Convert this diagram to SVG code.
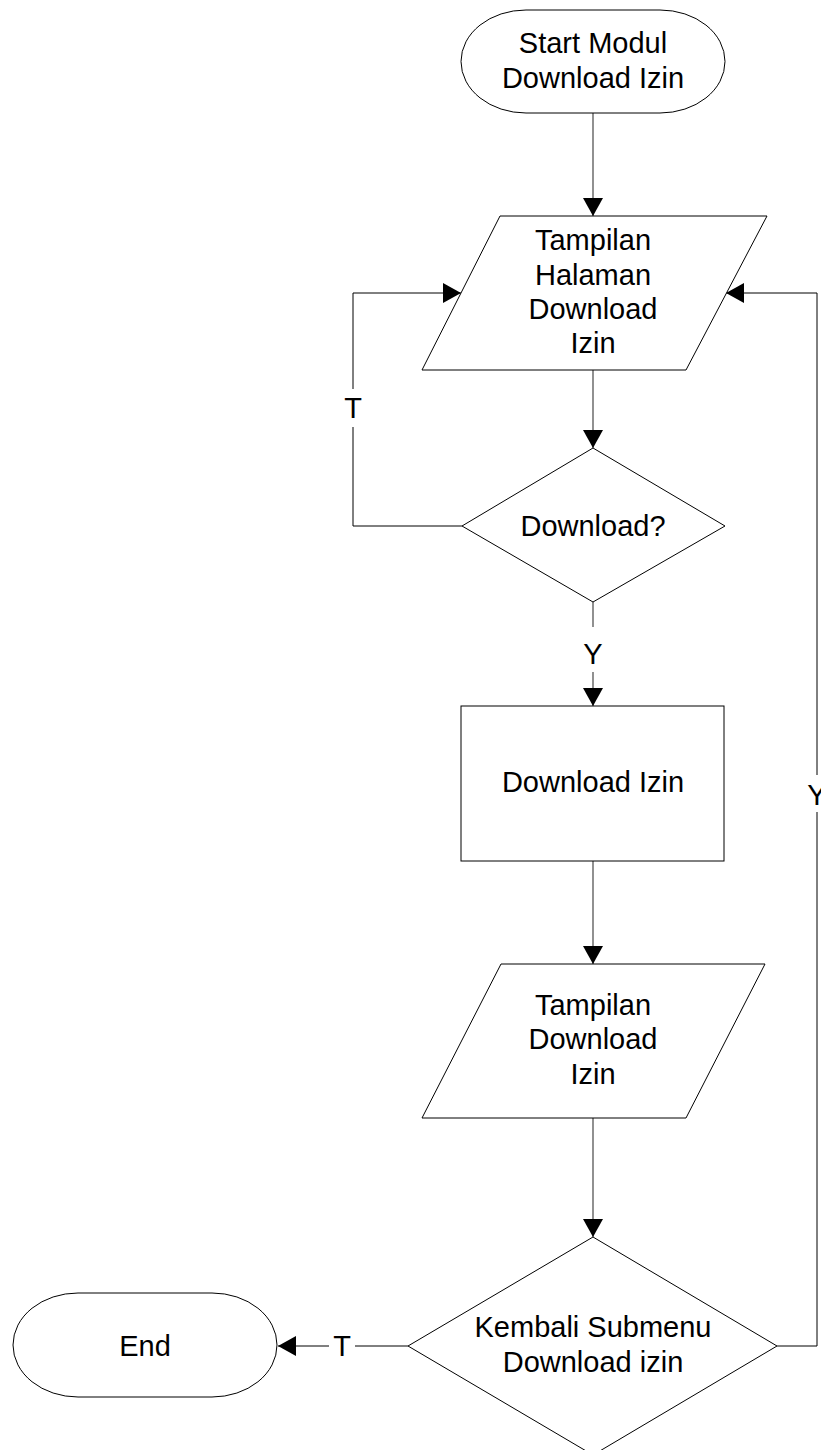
<svg xmlns="http://www.w3.org/2000/svg" width="821" height="1450" viewBox="0 0 821 1450">
<style>
.shape{fill:#fff;stroke:#000;stroke-width:1}
.lbl{font-family:"Liberation Sans",Arial,sans-serif;font-size:29px;fill:#000;text-anchor:middle}
.conn{fill:none;stroke:#555;stroke-width:1.3}
.loop{fill:none;stroke:#000;stroke-width:1}
</style>
<defs>
<marker id="ah" markerUnits="userSpaceOnUse" markerWidth="20" markerHeight="20" viewBox="0 0 18 20" refX="18" refY="10" orient="auto">
<path d="M0,0 L18,10 L0,20 Z" fill="#000"/>
</marker>
</defs>
<rect width="821" height="1450" fill="#fff"/>
<g id="connectors">
<line class="conn" x1="593" y1="113" x2="593" y2="216" marker-end="url(#ah)"/>
<line class="conn" x1="593" y1="370" x2="593" y2="448" marker-end="url(#ah)"/>
<polyline class="loop" points="462,526 353,526 353,427"/>
<polyline class="loop" points="353,389 353,293 461,293" marker-end="url(#ah)"/>
<line class="conn" x1="593" y1="602" x2="593" y2="627"/>
<line class="conn" x1="593" y1="672" x2="593" y2="706" marker-end="url(#ah)"/>
<line class="conn" x1="593" y1="861" x2="593" y2="964" marker-end="url(#ah)"/>
<line class="conn" x1="593" y1="1118" x2="593" y2="1237" marker-end="url(#ah)"/>
<line class="loop" x1="408" y1="1346" x2="355" y2="1346"/>
<line class="loop" x1="329" y1="1346" x2="278" y2="1346" marker-end="url(#ah)"/>
<polyline class="loop" points="777,1346 817,1346 817,812"/>
<polyline class="loop" points="817,775 817,293 726,293" marker-end="url(#ah)"/>
<text class="lbl" x="353" y="418">T</text>
<text class="lbl" x="593" y="664">Y</text>
<text class="lbl" x="817" y="805">Y</text>
<text class="lbl" x="342" y="1356">T</text>
</g>
<g id="start">
<rect class="shape" x="461" y="10" width="264" height="103" rx="65" ry="51.5"/>
<text class="lbl" x="593" y="53">Start Modul</text>
<text class="lbl" x="593" y="88">Download Izin</text>
</g>
<g id="tampilan-halaman">
<polygon class="shape" points="500,216 767,216 686,370 422,370"/>
<text class="lbl" x="593" y="250">Tampilan</text>
<text class="lbl" x="593" y="285">Halaman</text>
<text class="lbl" x="593" y="319">Download</text>
<text class="lbl" x="593" y="353">Izin</text>
</g>
<g id="decision-download">
<polygon class="shape" points="593,448 725,526 593,602 462,526"/>
<text class="lbl" x="593" y="536">Download?</text>
</g>
<g id="download-izin">
<rect class="shape" x="461" y="706" width="263" height="155"/>
<text class="lbl" x="593" y="792">Download Izin</text>
</g>
<g id="tampilan-download">
<polygon class="shape" points="501,964 765,964 686,1118 422,1118"/>
<text class="lbl" x="593" y="1015">Tampilan</text>
<text class="lbl" x="593" y="1049">Download</text>
<text class="lbl" x="593" y="1084">Izin</text>
</g>
<g id="decision-kembali">
<polygon class="shape" points="593,1237 777,1346 593,1455 408,1346"/>
<text class="lbl" x="593" y="1337">Kembali Submenu</text>
<text class="lbl" x="593" y="1372">Download izin</text>
</g>
<g id="end">
<rect class="shape" x="13" y="1293" width="264" height="104" rx="65" ry="52"/>
<text class="lbl" x="145" y="1356">End</text>
</g>
</svg>
